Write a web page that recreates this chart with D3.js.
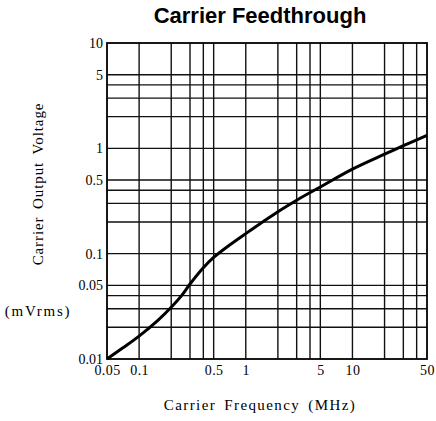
<!DOCTYPE html>
<html>
<head>
<meta charset="utf-8">
<script src="https://cdn.jsdelivr.net/npm/d3@7"></script>
<style>
  body { margin: 0; background: #fff; }
  svg { display: block; }
</style>
</head>
<body>
<svg width="436" height="421"></svg>
<script>
// Carrier feedthrough, log-log
const freq = [0.05, 0.07, 0.1, 0.15, 0.2, 0.25, 0.3, 0.4, 0.5, 0.7, 1, 2, 3, 5, 10, 20, 30, 50];
const volt = [0.01, 0.0127, 0.0165, 0.0233, 0.031, 0.040, 0.0515, 0.0735, 0.092, 0.12, 0.155, 0.25, 0.322, 0.43, 0.635, 0.88, 1.06, 1.33];

const xGrid = [0.1, 0.2, 0.3, 0.4, 0.5, 1, 2, 3, 4, 5, 10, 20, 30, 40];
const yGrid = [0.02, 0.03, 0.04, 0.05, 0.1, 0.2, 0.3, 0.4, 0.5, 1, 2, 3, 4, 5];
const xTicks = [0.05, 0.1, 0.5, 1, 5, 10, 50];
const xTickLabels = ['0.05', '0.1', '0.5', '1', '5', '10', '50'];
const yTicks = [0.01, 0.05, 0.1, 0.5, 1, 5, 10];
const yTickLabels = ['0.01', '0.05', '0.1', '0.5', '1', '5', '10'];

const serif = '"Liberation Serif", "DejaVu Serif", serif';

const svg = d3.select('svg');

const xScale = d3.scaleLog().domain([0.05, 50]).range([107, 427]);
const yScale = d3.scaleLog().domain([0.01, 10]).range([359, 43]);

// grid
svg.append('g')
  .selectAll('line')
  .data(xGrid)
  .enter()
  .append('line')
    .attr('x1', (d) => xScale(d))
    .attr('x2', (d) => xScale(d))
    .attr('y1', yScale(10))
    .attr('y2', yScale(0.01))
    .attr('stroke', '#111')
    .attr('stroke-width', 1.4);

svg.append('g')
  .selectAll('line')
  .data(yGrid)
  .enter()
  .append('line')
    .attr('x1', xScale(0.05))
    .attr('x2', xScale(50))
    .attr('y1', (d) => yScale(d))
    .attr('y2', (d) => yScale(d))
    .attr('stroke', '#111')
    .attr('stroke-width', 1.4);

// frame
svg.append('rect')
  .attr('x', xScale(0.05))
  .attr('y', yScale(10))
  .attr('width', xScale(50) - xScale(0.05))
  .attr('height', yScale(0.01) - yScale(10))
  .attr('fill', 'none')
  .attr('stroke', '#000')
  .attr('stroke-width', 1.8);

// axes (labels only)
const bottomAxis = d3.axisBottom(xScale)
  .tickValues(xTicks)
  .tickFormat((d, i) => xTickLabels[i])
  .tickSize(0)
  .tickPadding(6);

const leftAxis = d3.axisLeft(yScale)
  .tickValues(yTicks)
  .tickFormat((d, i) => yTickLabels[i])
  .tickSize(0)
  .tickPadding(4);

const gx = svg.append('g')
  .attr('transform', `translate(0, ${yScale(0.01)})`)
  .call(bottomAxis);
gx.select('.domain').remove();
gx.selectAll('text')
  .style('font-family', serif)
  .style('font-size', '14px')
  .style('letter-spacing', '0.4px')
  .attr('fill', '#000');

const gy = svg.append('g')
  .attr('transform', `translate(${xScale(0.05)}, 0)`)
  .call(leftAxis);
gy.select('.domain').remove();
gy.selectAll('text')
  .style('font-family', serif)
  .style('font-size', '14px')
  .attr('fill', '#000');

// curve
const line = d3.line()
  .x((d) => xScale(d[0]))
  .y((d) => yScale(d[1]))
  .curve(d3.curveCatmullRom.alpha(0.5));

svg.append('path')
  .datum(freq.map((f, i) => [f, volt[i]]))
  .attr('d', line)
  .attr('fill', 'none')
  .attr('stroke', '#000')
  .attr('stroke-width', 3);

// titles
svg.append('text')
  .text('Carrier Feedthrough')
  .attr('x', 260)
  .attr('y', 23)
  .attr('text-anchor', 'middle')
  .style('font-family', '"Liberation Sans", Arial, sans-serif')
  .style('font-weight', 'bold')
  .style('font-size', '22px');

svg.append('text')
  .text('Carrier Frequency (MHz)')
  .attr('x', 260)
  .attr('y', 410)
  .attr('text-anchor', 'middle')
  .style('font-family', serif)
  .style('font-size', '15px')
  .style('letter-spacing', '1.4px')
  .style('word-spacing', '3px');

svg.append('text')
  .text('Carrier Output Voltage')
  .attr('transform', 'translate(43, 184) rotate(-90)')
  .attr('text-anchor', 'middle')
  .style('font-family', serif)
  .style('font-size', '15px')
  .style('letter-spacing', '0.9px')
  .style('word-spacing', '3px');

svg.append('text')
  .text('(mVrms)')
  .attr('x', 38)
  .attr('y', 316)
  .attr('text-anchor', 'middle')
  .style('font-family', serif)
  .style('font-size', '15px')
  .style('letter-spacing', '1.8px');
</script>
</body>
</html>
